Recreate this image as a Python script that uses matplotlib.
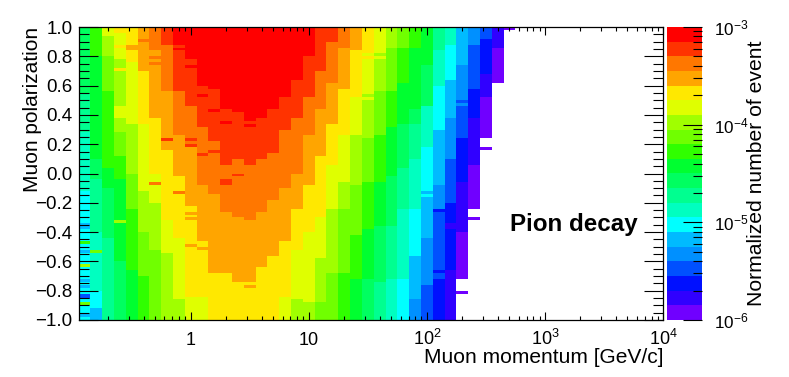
import matplotlib

matplotlib.use("Agg")
import matplotlib.pyplot as plt
import numpy as np
from matplotlib.colors import ListedColormap, LogNorm
from matplotlib.ticker import FixedLocator, NullFormatter

plt.rcParams["font.family"] = ["Liberation Sans", "DejaVu Sans"]
plt.rcParams["mathtext.fontset"] = "custom"
plt.rcParams["mathtext.rm"] = "Liberation Sans"
plt.rcParams["mathtext.default"] = "regular"
plt.rcParams["axes.unicode_minus"] = True

# palette of the z axis, lowest band first
band_colors = [
    "#7000ff", "#3000ff", "#0010ff", "#0050ff", "#0090ff",
    "#00bbff", "#00ffff", "#00ffc0", "#00ff90", "#00ff60",
    "#00ff30", "#30ff00", "#70ff00", "#a0ff00", "#dfff00",
    "#ffe800", "#ffa500", "#ff7700", "#ff3300", "#ff0000",
]

# per momentum bin: (colour band, last polarization row), rows count from P=+1
columns = [
    [(9, 23), (8, 36), (7, 56), (6, 100)],
    [(11, 10), (10, 45), (9, 52), (8, 70), (7, 90), (6, 96), (5, 100)],
    [(14, 3), (13, 10), (12, 22), (11, 48), (10, 55), (9, 72), (8, 100)],
    [(15, 2), (14, 11), (13, 27), (14, 31), (13, 36), (12, 44), (11, 52), (10, 80), (9, 100)],
    [(15, 12), (14, 33), (13, 50), (12, 62), (11, 83), (10, 100)],
    [(16, 15), (15, 33), (14, 56), (13, 70), (12, 85), (11, 100)],
    [(17, 8), (16, 31), (15, 50), (14, 60), (13, 76), (12, 100)],
    [(18, 6), (17, 22), (16, 42), (15, 66), (14, 77), (13, 100)],
    [(19, 6), (18, 22), (17, 37), (16, 51), (15, 72), (14, 93), (13, 100)],
    [(19, 10), (18, 27), (17, 41), (16, 61), (15, 92), (14, 100)],
    [(19, 20), (18, 34), (17, 54), (16, 73), (15, 92), (14, 100)],
    [(19, 21), (18, 39), (17, 57), (16, 83), (15, 100)],
    [(19, 28), (18, 47), (17, 63), (16, 84), (15, 100)],
    [(19, 29), (18, 45), (17, 65), (16, 87), (15, 100)],
    [(19, 32), (18, 47), (17, 66), (16, 87), (15, 100)],
    [(19, 31), (18, 45), (17, 63), (16, 82), (15, 100)],
    [(19, 28), (18, 43), (17, 59), (16, 77), (15, 100)],
    [(19, 24), (18, 35), (17, 55), (16, 73), (15, 92), (14, 100)],
    [(19, 18), (18, 31), (17, 50), (16, 62), (15, 76), (14, 93), (13, 100)],
    [(19, 10), (18, 24), (17, 37), (16, 54), (15, 70), (14, 94), (13, 100)],
    [(18, 15), (17, 28), (16, 44), (15, 65), (14, 79), (13, 94), (12, 100)],
    [(18, 5), (17, 19), (16, 33), (15, 47), (14, 62), (13, 84), (12, 100)],
    [(17, 7), (16, 21), (15, 37), (14, 53), (13, 62), (12, 84), (11, 100)],
    [(16, 8), (15, 22), (14, 37), (13, 54), (12, 71), (11, 86), (10, 100)],
    [(15, 9), (14, 22), (13, 38), (12, 53), (11, 69), (10, 86), (9, 100)],
    [(14, 9), (13, 22), (12, 37), (11, 53), (10, 68), (9, 87), (8, 100)],
    [(13, 7), (12, 22), (11, 34), (10, 51), (9, 68), (8, 86), (7, 100)],
    [(12, 7), (11, 19), (10, 33), (9, 48), (8, 62), (7, 86), (6, 100)],
    [(11, 7), (10, 28), (9, 33), (8, 45), (7, 62), (6, 77), (5, 93), (4, 100)],
    [(10, 13), (9, 27), (7, 41), (6, 56), (5, 72), (4, 88), (3, 100)],
    [(8, 8), (7, 20), (6, 35), (5, 54), (4, 63), (3, 86), (2, 100)],
    [(7, 6), (6, 18), (5, 31), (4, 45), (3, 60), (2, 83), (1, 100)],
    [(5, 13), (4, 25), (3, 38), (2, 53), (1, 70), (0, 86)],
    [(4, 6), (3, 21), (2, 31), (1, 47), (0, 62)],
    [(3, 4), (2, 16), (1, 24), (0, 38)],
    [(1, 7), (0, 19)],
    [(0, 1)],
]

# single odd cells: (row, momentum bin, colour band)
odd_cells = [
    (4, 5, 17), (6, 4, 16), (7, 4, 16), (6, 3, 15), (14, 3, 15), (7, 7, 17),
    (10, 6, 17), (12, 6, 17), (5, 8, 19), (7, 8, 19), (10, 9, 19), (13, 9, 19),
    (23, 10, 19), (28, 11, 19), (32, 12, 19), (33, 14, 19), (38, 7, 18),
    (38, 9, 18), (40, 9, 18), (43, 10, 18), (42, 11, 18), (50, 13, 18),
    (52, 12, 18), (53, 12, 18), (53, 6, 17), (56, 8, 17), (52, 9, 16),
    (63, 9, 16), (65, 9, 16), (66, 12, 16), (77, 16, 16), (83, 11, 16),
    (88, 14, 16), (74, 9, 16), (75, 10, 16), (73, 0, 11), (76, 0, 5),
    (81, 0, 13), (86, 0, 5), (88, 0, 5), (91, 0, 3), (92, 0, 3), (94, 0, 12),
    (98, 0, 5), (67, 0, 5), (68, 0, 5), (76, 1, 12), (97, 1, 5), (98, 1, 5),
    (66, 3, 13), (62, 30, 2), (57, 29, 6), (26, 32, 4), (90, 32, 0), (65, 33, 0),
    (41, 34, 0), (10, 24, 15), (10, 25, 14), (22, 23, 15), (23, 23, 15),
    (22, 24, 14), (24, 24, 14), (34, 22, 15), (36, 22, 15), (76, 28, 6),
    (77, 28, 6), (83, 30, 2), (67, 31, 1), (68, 31, 1),
]

x_ticks = [1, 10, 100, 1000, 10000]
x_tick_labels = ["1", "10", r"$10^{2}$", r"$10^{3}$", r"$10^{4}$"]
y_ticks = [-1.0, -0.8, -0.6, -0.4, -0.2, 0.0, 0.2, 0.4, 0.6, 0.8, 1.0]
z_ticks = [1e-6, 1e-5, 1e-4, 1e-3]
z_tick_labels = [r"$10^{-6}$", r"$10^{-5}$", r"$10^{-4}$", r"$10^{-3}$"]

XMIN = 10**-0.95
W, H = 789, 377


def band_value(band):
    return 10 ** (-6 + 0.15 * (band + 0.5))


def build_grid():
    grid = np.full((100, 50), np.nan)
    for col, runs in enumerate(columns):
        start = 0
        for band, end in runs:
            grid[start:end, col] = band_value(band)
            start = end
    for row, col, band in odd_cells:
        grid[row, col] = band_value(band)
    return grid[::-1]


fig = plt.figure(figsize=(W / 100, H / 100), dpi=100)
ax = fig.add_axes([78.5 / W, 1 - 320 / H, (663 - 78.5) / W, 293 / H])
cax = fig.add_axes([667 / W, 1 - 320 / H, 35 / W, 293 / H])

x_edges = 10 ** (-0.95 + 0.1 * np.arange(51))
y_edges = np.linspace(-1, 1, 101)
cmap = ListedColormap(band_colors)
cmap.set_bad("white")
norm = LogNorm(vmin=1e-6, vmax=1e-3)
mesh = ax.pcolormesh(x_edges, y_edges, build_grid(), cmap=cmap, norm=norm)

ax.set_xscale("log")
ax.set_xlim(XMIN, 1e4)
ax.set_ylim(-1, 1)
ax.set_xticks(x_ticks)
ax.set_xticklabels(x_tick_labels, fontsize=13, va="baseline")
minor_x = [m * 10.0**e for e in range(-1, 4) for m in range(2, 10)]
ax.xaxis.set_minor_locator(FixedLocator([v for v in minor_x if XMIN < v < 1e4]))
ax.xaxis.set_minor_formatter(NullFormatter())
ax.set_yticks(y_ticks)
ax.set_yticklabels([f"{v:.1f}".replace("-", "\u2212") for v in y_ticks], fontsize=13.5)
ax.yaxis.set_minor_locator(FixedLocator(np.arange(-20, 21) * 0.05))

ax.tick_params(axis="x", which="major", direction="in", length=6, width=0.8,
               top=True, pad=18)
ax.tick_params(axis="x", which="minor", direction="in", length=3, width=0.8, top=True)
ax.tick_params(axis="y", which="major", direction="in", length=13.4, width=0.8,
               right=True, pad=4.5)
ax.tick_params(axis="y", which="minor", direction="in", length=7.2, width=0.8, right=True)
ax.tick_params(axis="both", which="both", zorder=5)
for s in ax.spines.values():
    s.set_linewidth(0.9)
ax.set_axisbelow(False)

fig.text(663 / W, 1 - 363 / H, "Muon momentum [GeV/c]", ha="right", va="baseline", fontsize=15.1)
fig.text(33 / W, 1 - 27 / H, "Muon polarization", rotation=90, ha="center", va="top", fontsize=15)
fig.text(574 / W, 1 - 224 / H, "Pion decay", ha="center", va="center", fontsize=17.4, fontweight="bold")

cb = fig.colorbar(mesh, cax=cax)
cb.set_ticks(z_ticks)
cb.set_ticklabels(z_tick_labels, fontsize=12.3)
cb.ax.yaxis.set_minor_locator(
    FixedLocator([m * 10.0**e for e in range(-6, -3) for m in range(2, 10)])
)
cb.ax.yaxis.set_minor_formatter(NullFormatter())
cb.ax.tick_params(which="major", direction="in", length=13.4, width=0.8, pad=8.5, zorder=5)
cb.ax.tick_params(which="minor", direction="in", length=6.5, width=0.8, zorder=5)
cb.outline.set_visible(False)
cb.ax.spines["top"].set_visible(False)
fig.text(756.5 / W, 1 - 40 / H, "Normalized number of event", rotation=90, ha="center", va="top", fontsize=15.2)

plt.savefig("out.png", dpi=100)
plt.close()
